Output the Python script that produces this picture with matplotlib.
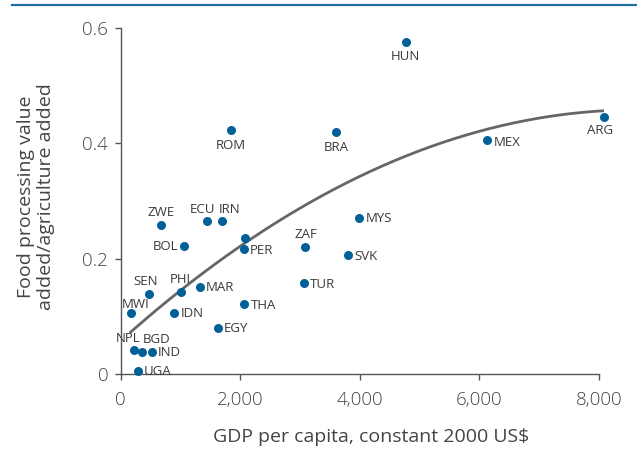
import matplotlib
matplotlib.use("Agg")
import matplotlib.pyplot as plt
import numpy as np

# ---- data ----
countries = ["HUN", "ARG", "MEX", "BRA", "ROM", "MYS", "ZAF", "SVK", "ECU", "IRN",
             "", "PER", "ZWE", "BOL", "SEN", "PHI", "MAR", "MWI", "IDN", "THA",
             "EGY", "NPL", "BGD", "IND", "UGA", "TUR"]
gdp_per_capita = [4766, 8087, 6130, 3600, 1844, 3985, 3087, 3806, 1438, 1694,
                  2074, 2057, 679, 1064, 468, 1008, 1326, 167, 896, 2067,
                  1622, 222, 356, 518, 284, 3060]
food_ratio = [0.575, 0.445, 0.405, 0.419, 0.423, 0.271, 0.220, 0.206, 0.265, 0.265,
              0.236, 0.216, 0.258, 0.222, 0.139, 0.142, 0.150, 0.105, 0.105, 0.122,
              0.079, 0.042, 0.038, 0.039, 0.005, 0.157]
# label placement: (dx px, dy px (up positive), ha)
label_pos = {
    "HUN": (0, -14, "center"), "ARG": (-4, -13, "center"),
    "MEX": (6.5, -2, "left"), "BRA": (0, -15, "center"),
    "ROM": (0, -15, "center"), "MYS": (6.5, -1, "left"),
    "ZAF": (1, 13, "center"), "SVK": (6, -1, "left"),
    "ECU": (-4, 12, "center"), "IRN": (8, 12, "center"),
    "PER": (6.5, -1, "left"), "ZWE": (0, 13, "center"),
    "BOL": (-6.5, -1, "right"), "SEN": (-3, 12, "center"),
    "PHI": (-1, 13, "center"), "MAR": (6, -0.5, "left"),
    "MWI": (5, 9, "center"), "IDN": (6, -0.5, "left"),
    "THA": (7, -2, "left"), "EGY": (6.5, 0, "left"),
    "NPL": (-6, 11, "center"), "BGD": (15, 12.5, "center"),
    "IND": (6, -0.5, "left"), "UGA": (6.5, 0, "left"),
    "TUR": (6.5, -1, "left"),
}
# points
trend_x = [167, 2161, 3834, 5507, 6343, 8060]
trend_y = [0.073, 0.232, 0.336, 0.403, 0.432, 0.456]

x_ticks = [0, 2000, 4000, 6000, 8000]
x_ticklabels = ["0", "2,000", "4,000", "6,000", "8,000"]
y_ticks = [0, 0.2, 0.4, 0.6]
y_ticklabels = ["0", "0.2", "0.4", "0.6"]

plt.rcParams['font.family'] = ['Open Sans', 'DejaVu Sans']
plt.rcParams['font.weight'] = 'light'
text_col = "#444444"
dot_col = "#005f96"
PT = 72 / 100  # points per pixel

fig = plt.figure(figsize=(6.37, 4.53), dpi=100)
ax = fig.add_axes([0.1895, 0.1744, 0.9403 - 0.1895, 0.9382 - 0.1744])

# top rule
fig.add_artist(plt.Line2D([12 / 637, 1.0], [1 - 5 / 453, 1 - 5 / 453],
                          color="#1f6fa3", lw=1.6, transform=fig.transFigure))

coef = np.polyfit(trend_x, trend_y, 2)
xs = np.linspace(trend_x[0], trend_x[-1], 200)
ax.plot(xs, np.polyval(coef, xs), color="#666666", lw=2.0, zorder=2, clip_on=False)

ax.scatter(gdp_per_capita, food_ratio, s=42, color=dot_col, zorder=3,
           linewidths=0, clip_on=False)

for c, x, y in zip(countries, gdp_per_capita, food_ratio):
    if not c:
        continue
    dx, dy, ha = label_pos[c]
    ax.annotate(c, (x, y), xytext=(dx * PT, dy * PT), textcoords="offset points",
                ha=ha, va="center", fontsize=9.5, fontweight="normal",
                color="#3a3a3a", zorder=4, annotation_clip=False)

ax.set_xlim(0, 8000)
ax.set_ylim(0, 0.6)
ax.set_xticks(x_ticks)
ax.set_xticklabels(x_ticklabels)
ax.set_yticks(y_ticks)
ax.set_yticklabels(y_ticklabels)
for s in ["top", "right"]:
    ax.spines[s].set_visible(False)
for s in ["left", "bottom"]:
    ax.spines[s].set_color("#555555")
    ax.spines[s].set_linewidth(1.0)
ax.tick_params(direction="out", length=4, width=1, color="#555555",
               labelsize=13.5, labelcolor=text_col, pad=5)
ax.tick_params(axis="x", pad=8.5)

ax.set_xlabel("GDP per capita, constant 2000 US$", fontsize=14, color=text_col, labelpad=13.5)
ax.xaxis.label.set_x(0.523)
ax.set_ylabel("Food processing value\nadded/agriculture added", fontsize=14,
              color=text_col, labelpad=19.5, linespacing=1.17)
ax.yaxis.label.set_y(0.512)

fig.savefig("out.png", dpi=100)
